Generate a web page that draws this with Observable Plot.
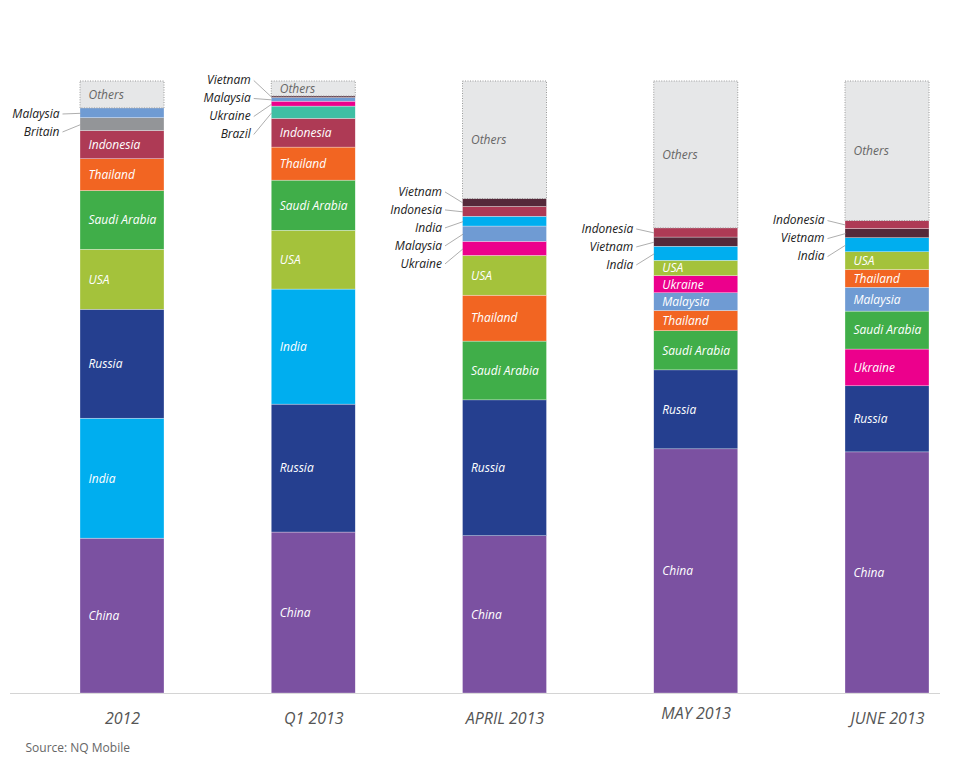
<!DOCTYPE html>
<html>
<head>
<meta charset="utf-8">
<script src="https://cdn.jsdelivr.net/npm/d3@7"></script>
<script src="https://cdn.jsdelivr.net/npm/@observablehq/plot@0.6"></script>
<style>
  html, body { margin: 0; padding: 0; background: #fff; }
  #chart svg { display: block; }
</style>
</head>
<body>
<div id="chart"></div>
<script>
// ---- data (stack order: bottom to top, values in % of each period) ----
const periods = ["2012", "Q1 2013", "APRIL 2013", "MAY 2013", "JUNE 2013"];

const countries2012 = ["China", "India", "Russia", "USA", "Saudi Arabia", "Thailand", "Indonesia", "Britain", "Malaysia", "Others"];
const shares2012    = [25.3, 19.6, 17.8, 9.8, 9.6, 5.2, 4.6, 2.1, 1.6, 4.4];
const outside2012   = ["Britain", "Malaysia"];

const countriesQ1 = ["China", "Russia", "India", "USA", "Saudi Arabia", "Thailand", "Indonesia", "Brazil", "Ukraine", "Malaysia", "Vietnam", "Others"];
const sharesQ1    = [26.3, 20.9, 18.8, 9.6, 8.2, 5.4, 4.7, 2.0, 0.8, 0.6, 0.25, 2.45];
const outsideQ1   = ["Brazil", "Ukraine", "Malaysia", "Vietnam"];

const countriesApr = ["China", "Russia", "Saudi Arabia", "Thailand", "USA", "Ukraine", "Malaysia", "India", "Indonesia", "Vietnam", "Others"];
const sharesApr    = [25.7, 22.2, 9.6, 7.5, 6.5, 2.3, 2.5, 1.6, 1.6, 1.3, 19.2];
const outsideApr   = ["Ukraine", "Malaysia", "India", "Indonesia", "Vietnam"];

const countriesMay = ["China", "Russia", "Saudi Arabia", "Thailand", "Malaysia", "Ukraine", "USA", "India", "Vietnam", "Indonesia", "Others"];
const sharesMay    = [39.9, 12.9, 6.4, 3.3, 2.9, 2.8, 2.5, 2.3, 1.5, 1.5, 24.0];
const outsideMay   = ["India", "Vietnam", "Indonesia"];

const countriesJun = ["China", "Russia", "Ukraine", "Saudi Arabia", "Malaysia", "Thailand", "USA", "India", "Vietnam", "Indonesia", "Others"];
const sharesJun    = [39.4, 10.8, 6.0, 6.2, 3.9, 2.9, 2.9, 2.3, 1.5, 1.3, 22.8];
const outsideJun   = ["India", "Vietnam", "Indonesia"];

const colorCountries = ["China", "India", "Russia", "USA", "Saudi Arabia", "Thailand", "Indonesia", "Britain", "Malaysia", "Brazil", "Ukraine", "Vietnam", "Others"];
const colorValues    = ["#7b51a1", "#00aeef", "#253f8f", "#a4c23b", "#40ae49", "#f26522", "#ae3a55", "#939598", "#6f9bd3", "#3fbfa4", "#ec008c", "#55293a", "#e6e7e8"];

const sourceText = "Source: NQ Mobile";

// ---- build stacked segments ----
const groups = [
  [countries2012, shares2012, outside2012],
  [countriesQ1, sharesQ1, outsideQ1],
  [countriesApr, sharesApr, outsideApr],
  [countriesMay, sharesMay, outsideMay],
  [countriesJun, sharesJun, outsideJun]
];

const H = 612;                 // plot height in px (y range)
const pxY = 100 / H;           // data units per px (y)
const stepPx = 191.25;         // px between bar centres
const pxX = 1 / stepPx;        // data units per px (x)
const w = 42 * pxX;            // half bar width in x units
const labelGap = 18 * pxY;     // spacing of outside labels

const segments = [];
const outsideLabels = [];
groups.forEach(([names, vals, outside], i) => {
  let acc = 0;
  const outs = [];
  names.forEach((c, k) => {
    const s = {i, country: c, y1: acc, y2: acc + vals[k], out: outside.includes(c)};
    acc += vals[k];
    s.mid = (s.y1 + s.y2) / 2;
    segments.push(s);
    if (s.out) outs.push(s);
  });
  const m = d3.mean(outs, d => d.mid);
  const n = outs.length;
  outs.forEach((s, k) => {
    outsideLabels.push({i, country: s.country, mid: s.mid, ly: m + (k - (n - 1) / 2) * labelGap - 4 * pxY});
  });
});

const colored = segments.filter(d => d.country !== "Others");
const others = segments.filter(d => d.country === "Others");
const insideColored = colored.filter(d => !d.out);
const periodRows = periods.map((p, i) => ({i, p}));

const font = "'Open Sans', 'Segoe UI', sans-serif";

const chart = Plot.plot({
  width: 960,
  height: 769,
  marginTop: 81,
  marginBottom: 76,
  marginLeft: 10,
  marginRight: 20,
  style: {fontFamily: font, background: "#fff"},
  x: {domain: [-112 * pxX, 4 + 53 * pxX], axis: null},
  y: {domain: [0, 100], axis: null},
  color: {domain: colorCountries, range: colorValues},
  marks: [
    Plot.ruleY([0], {stroke: "#d4d4d4", strokeWidth: 1.2}),
    Plot.rect(colored, {x1: d => d.i - w, x2: d => d.i + w, y1: "y1", y2: "y2", fill: "country", stroke: "#ffffff", strokeWidth: 0.5, strokeOpacity: 0.6}),
    Plot.rect(others, {x1: d => d.i - w, x2: d => d.i + w, y1: "y1", y2: "y2", fill: "country", stroke: "#9a9a9a", strokeWidth: 1, strokeDasharray: "1,1.5"}),
    Plot.text(insideColored, {x: d => d.i - w, y: "mid", text: "country", dx: 8, textAnchor: "start", fill: "white", fontStyle: "italic", fontSize: 12}),
    Plot.text(others, {x: d => d.i - w, y: "mid", text: "country", dx: 8, textAnchor: "start", fill: "#666", fontStyle: "italic", fontSize: 12}),
    Plot.link(outsideLabels, {x1: d => d.i - w - 18 * pxX, y1: "ly", x2: d => d.i - w, y2: "mid", stroke: "#999", strokeWidth: 0.8}),
    Plot.text(outsideLabels, {x: d => d.i - w, y: "ly", text: "country", dx: -21, textAnchor: "end", fill: "#222", fontStyle: "italic", fontSize: 12}),
    Plot.text(periodRows.filter(d => d.p !== "MAY 2013"), {x: "i", y: () => 0, text: "p", dy: 25, fill: "#555", fontStyle: "italic", fontSize: 16}),
    Plot.text(periodRows.filter(d => d.p === "MAY 2013"), {x: "i", y: () => 0, text: "p", dy: 20, fill: "#555", fontStyle: "italic", fontSize: 16}),
    Plot.text([sourceText], {frameAnchor: "bottom-left", text: d => d, dx: 15, dy: 58, textAnchor: "start", fill: "#666", fontSize: 12})
  ]
});

document.getElementById("chart").appendChild(chart);
</script>
</body>
</html>
